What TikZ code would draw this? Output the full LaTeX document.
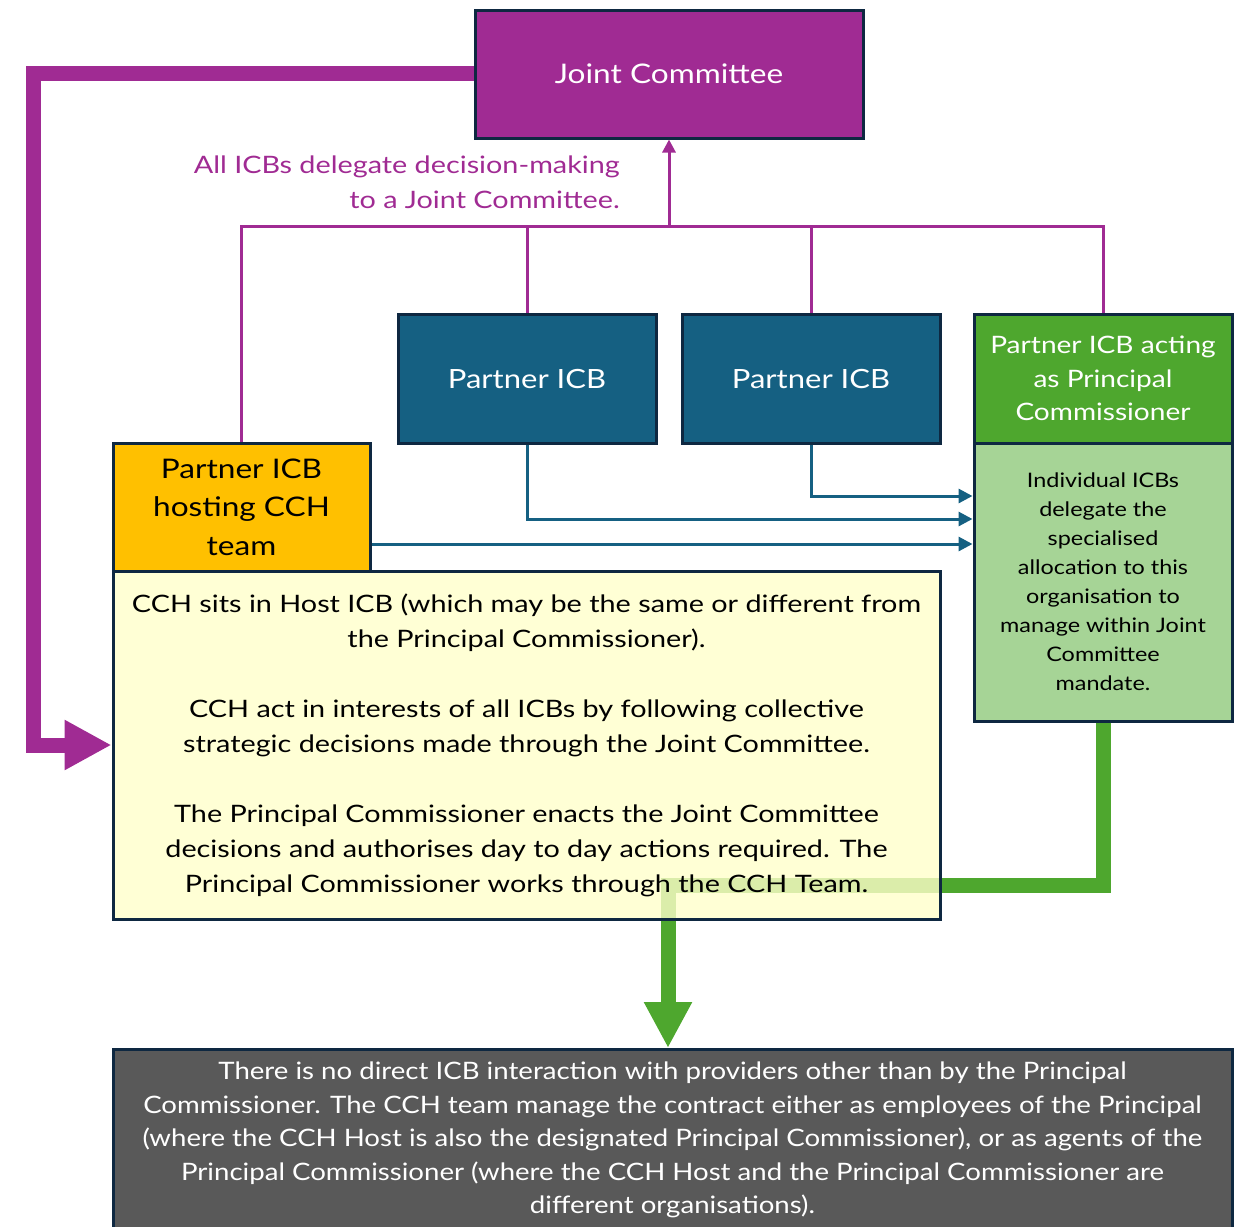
\documentclass[tikz,border=0pt]{standalone}
\usepackage{fontspec}
\setmainfont[FakeStretch=1.17]{Lato}
\newfontfamily\widefont[FakeStretch=1.2]{Lato}
\newfontfamily\notefont[FakeStretch=1.15]{Lato}
\usetikzlibrary{arrows.meta}

\definecolor{jcpurple}{HTML}{A02B93}
\definecolor{navy}{HTML}{0E2841}
\definecolor{icbblue}{HTML}{156082}
\definecolor{pcgreen}{HTML}{4EA72E}
\definecolor{lightgreen}{HTML}{A6D496}
\definecolor{hostgold}{HTML}{FFC000}
\definecolor{notegrey}{HTML}{595959}
\definecolor{paleyellow}{HTML}{FFFFCA}

\begin{document}
\begin{tikzpicture}[x=1pt,y=-1pt,
  box/.style={draw=navy, line width=3pt, align=center, inner sep=0pt},
  fs/.style 2 args={font=\fontsize{#1pt}{#2pt}\selectfont},
  thinpurple/.style={draw=jcpurple, line width=3pt},
  bluearrow/.style={draw=icbblue, line width=3pt, -{Triangle[length=14pt,width=14pt]}},
  bigpurple/.style={draw=jcpurple, line width=15pt, line join=miter,
    -{Triangle[length=47pt,width=47pt]}},
  biggreen/.style={draw=pcgreen, line width=15pt, line join=miter,
    -{Triangle[length=46pt,width=45pt]}}]
\useasboundingbox (0,0) rectangle (1238,1226);

% committee and partner organisations
\node[box, fill=jcpurple, text=white, minimum width=388pt, minimum height=128pt, fs={27}{33}]
  (jc) at (669,74) {Joint Committee};
\node[box, fill=icbblue, text=white, minimum width=258pt, minimum height=129pt, fs={26.5}{33}]
  (p1) at (527,378.5) {Partner ICB};
\node[box, fill=icbblue, text=white, minimum width=258pt, minimum height=129pt, fs={26.5}{33}]
  (p2) at (811,378.5) {Partner ICB};
\node[box, fill=pcgreen, text=white, minimum width=258pt, minimum height=129pt, fs={24}{33.5}]
  (pc) at (1103,378.5) {Partner ICB acting\\as Principal\\Commissioner};
\node[box, fill=lightgreen, text=black, minimum width=258pt, minimum height=278pt, fs={20}{29}]
  (lg) at (1103,582) {Individual ICBs\\delegate the\\specialised\\allocation to this\\organisation to\\manage within Joint\\Committee\\mandate.};
\node[box, fill=hostgold, text=black, minimum width=257pt, minimum height=128pt, fs={27}{38.5}]
  (host) at (241.5,507) {Partner ICB\\hosting CCH\\team};
\node[box, fill=notegrey, text=white, minimum width=1119pt, minimum height=200pt, anchor=north]
  (bot) at (672.5,1048) {};
\node[text=white, align=center, inner sep=0pt, font=\notefont\fontsize{24pt}{33.5pt}\selectfont]
  (bottext) at (672.5,1140) {There is no direct ICB interaction with providers other than by the Principal\\
  Commissioner. The CCH team manage the contract either as employees of the Principal\\
  (where the CCH Host is also the designated Principal Commissioner), or as agents of the\\
  Principal Commissioner (where the CCH Host and the Principal Commissioner are\\
  different organisations).};

% delegation label
\node[text=jcpurple, align=right, anchor=east, inner sep=0pt, font=\widefont\fontsize{24}{35}\selectfont]
  (deleg) at (620,182) {All ICBs delegate decision-making\\to a Joint Committee.};

% delegation tree to the Joint Committee
\coordinate (bar) at (669,226);
\draw[thinpurple] (host.north) |- (bar) -| (pc.north);
\draw[thinpurple] (p1.north) -- (p1.north |- bar);
\draw[thinpurple] (p2.north) -- (p2.north |- bar);
\draw[thinpurple, -{Triangle[length=13pt,width=13pt]}] (bar) -- (jc.south);

% allocations to the Principal Commissioner
\draw[bluearrow] (p1.south) |- (lg.west |- 0,519);
\draw[bluearrow] (p2.south) |- (lg.west |- 0,496);
\draw[bluearrow] (host.east |- 0,544) -- (lg.west |- 0,544);

% Principal Commissioner to providers
\coordinate (gturn) at (1103,885);
\coordinate (gdrop) at (668,885);
\draw[biggreen] (lg.south) -- (gturn) -- (gdrop) -- (gdrop |- bot.north);

% CCH host description
\node[box, fill=paleyellow, fill opacity=0.8, text opacity=1, text=black,
  minimum width=827pt, minimum height=348pt, font=\widefont\fontsize{24}{35}\selectfont]
  (yel) at (526.5,745) {CCH sits in Host ICB (which may be the same or different from\\
  the Principal Commissioner).\\[35pt]
  CCH act in interests of all ICBs by following collective\\
  strategic decisions made through the Joint Committee.\\[35pt]
  The Principal Commissioner enacts the Joint Committee\\
  decisions and authorises day to day actions required. The\\
  Principal Commissioner works through the CCH Team.};

% Joint Committee decisions to the CCH
\coordinate (pcorner) at (33,73);
\draw[bigpurple] (jc.west |- pcorner) -- (pcorner) |- (yel.west);
\end{tikzpicture}
\end{document}
